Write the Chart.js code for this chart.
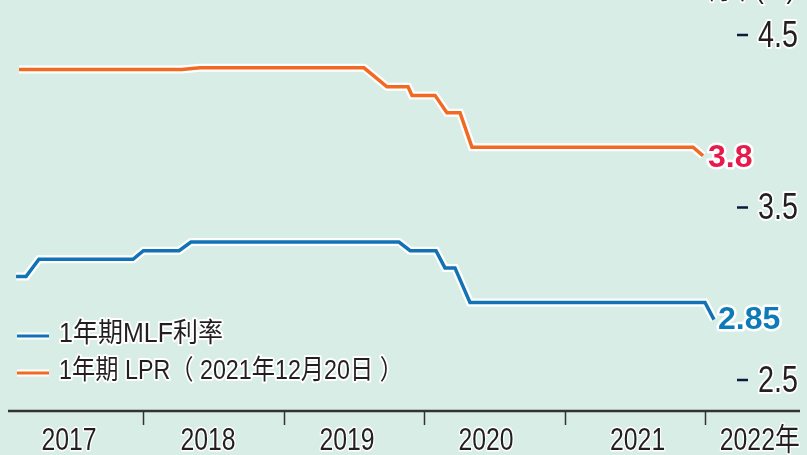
<!DOCTYPE html>
<html>
<head>
<meta charset="utf-8">
<script src="https://cdn.jsdelivr.net/npm/chart.js@4/dist/chart.umd.min.js"></script>
<style>
  html, body { margin: 0; padding: 0; background: #d9ede7; }
  #wrap { width: 807px; height: 455px; }
</style>
</head>
<body>
<div id="wrap"><canvas id="rateChart" width="807" height="455"></canvas></div>
<script>
// data (x in decimal years)
const mlfDates = [2017.093, 2017.164, 2017.256, 2017.926, 2018.0, 2018.254, 2018.339, 2019.82, 2019.90, 2020.084, 2020.148, 2020.219, 2020.326, 2022.0, 2022.064];
const mlfRates = [3.1, 3.1, 3.2, 3.2, 3.25, 3.25, 3.3, 3.3, 3.25, 3.25, 3.15, 3.15, 2.95, 2.95, 2.85];
const lprDates = [2017.114, 2018.275, 2018.403, 2019.571, 2019.735, 2019.885, 2019.913, 2020.077, 2020.162, 2020.255, 2020.34, 2021.915, 2021.986];
const lprRates = [4.30, 4.30, 4.31, 4.31, 4.20, 4.20, 4.15, 4.15, 4.05, 4.05, 3.85, 3.85, 3.80];

const yearBreaks = [2018, 2019, 2020, 2021, 2022];
const yearLabels = ['2017', '2018', '2019', '2020', '2021', '2022年'];
const yearLabelAt = [2017.47, 2018.46, 2019.45, 2020.44, 2021.52, 2022.39];
const yTicks = [2.5, 3.5, 4.5];

const seriesNames = ['1年期MLF利率', '1年期 LPR（ 2021年12月20日 ）'];
const endLabels = ['2.85', '3.8'];
const unitLabel = '利率(%)';

const BLUE = '#1173b5';
const ORANGE = '#f26a21';

function toPoints(xs, ys) {
  return xs.map((x, i) => ({ x: x, y: ys[i] }));
}

// text with a white halo, optional horizontal squeeze
function haloText(ctx, text, x, y, font, color, align, sx, halo) {
  ctx.save();
  ctx.font = font;
  ctx.textAlign = align || 'left';
  ctx.textBaseline = 'middle';
  ctx.translate(x, y);
  ctx.scale(sx || 1, 1);
  ctx.lineJoin = 'round';
  ctx.strokeStyle = '#ffffff';
  ctx.lineWidth = halo || 4;
  ctx.strokeText(text, 0, 0);
  ctx.fillStyle = color;
  ctx.fillText(text, 0, 0);
  ctx.restore();
}

const decorPlugin = {
  id: 'decor',
  beforeDraw(chart) {
    const ctx = chart.ctx;
    ctx.save();
    ctx.fillStyle = '#d9ede7';
    ctx.fillRect(0, 0, chart.width, chart.height);
    ctx.restore();
  },
  afterDraw(chart) {
    const ctx = chart.ctx;
    const xs = chart.scales.x;
    const ys = chart.scales.y;
    const area = chart.chartArea;

    // x axis line + year break ticks
    ctx.save();
    ctx.strokeStyle = '#333333';
    ctx.lineWidth = 2.5;
    ctx.beginPath();
    ctx.moveTo(area.left, area.bottom);
    ctx.lineTo(area.right, area.bottom);
    ctx.stroke();
    ctx.lineWidth = 1.5;
    yearBreaks.forEach(v => {
      const px = Math.round(xs.getPixelForValue(v)) + 0.5;
      ctx.beginPath();
      ctx.moveTo(px, area.bottom);
      ctx.lineTo(px, area.bottom + 14);
      ctx.stroke();
    });
    ctx.restore();

    yearLabels.forEach((t, i) => {
      haloText(ctx, t, xs.getPixelForValue(yearLabelAt[i]), area.bottom + 30,
        '31px "Liberation Sans", "Noto Sans CJK SC"', '#231f20', 'center', 0.8, 3);
    });

    // y ticks drawn on the right side
    yTicks.forEach(v => {
      const py = ys.getPixelForValue(v);
      ctx.save();
      ctx.strokeStyle = '#0b1a3a';
      ctx.lineWidth = 2.5;
      ctx.beginPath();
      ctx.moveTo(737, py);
      ctx.lineTo(748, py);
      ctx.stroke();
      ctx.restore();
      haloText(ctx, v.toFixed(1), 758, py + 2, '36px "Liberation Sans"', '#231f20', 'left', 0.8, 4);
    });

    // unit label, mostly cut off at the top
    haloText(ctx, unitLabel, 795, -10, '30px "Liberation Sans", "Noto Sans CJK SC"', '#231f20', 'right', 0.85, 4);

    // end value labels
    const mlfEnd = { x: xs.getPixelForValue(mlfDates[mlfDates.length - 1]), y: ys.getPixelForValue(mlfRates[mlfRates.length - 1]) };
    const lprEnd = { x: xs.getPixelForValue(lprDates[lprDates.length - 1]), y: ys.getPixelForValue(lprRates[lprRates.length - 1]) };
    haloText(ctx, endLabels[0], mlfEnd.x + 4, mlfEnd.y + 1, 'bold 32px "Liberation Sans"', '#0f7ab8', 'left', 1, 5);
    haloText(ctx, endLabels[1], lprEnd.x + 5, lprEnd.y + 2, 'bold 32px "Liberation Sans"', '#e8194b', 'left', 1, 5);

    // legend
    const legendRows = [
      { color: BLUE, text: seriesNames[0], y: 335, width: 164 },
      { color: ORANGE, text: seriesNames[1], y: 372, width: 344 }
    ];
    legendRows.forEach(r => {
      ctx.save();
      ctx.strokeStyle = '#ffffff';
      ctx.lineWidth = 7;
      ctx.beginPath();
      ctx.moveTo(17, r.y + 1);
      ctx.lineTo(49, r.y + 1);
      ctx.stroke();
      ctx.strokeStyle = r.color;
      ctx.lineWidth = 3;
      ctx.beginPath();
      ctx.moveTo(17, r.y + 1);
      ctx.lineTo(49, r.y + 1);
      ctx.stroke();
      ctx.font = '27px "Liberation Sans", "Noto Sans CJK SC"';
      const w = ctx.measureText(r.text).width;
      ctx.restore();
      haloText(ctx, r.text, 59, r.y, '27px "Liberation Sans", "Noto Sans CJK SC"', '#231f20', 'left', r.width / w, 4);
    });
  }
};

const mlfPoints = toPoints(mlfDates, mlfRates);
const lprPoints = toPoints(lprDates, lprRates);

new Chart(document.getElementById('rateChart'), {
  type: 'line',
  data: {
    datasets: [
      { label: 'MLF', data: mlfPoints, borderColor: BLUE, borderWidth: 3.5, order: 1 },
      { label: 'LPR', data: lprPoints, borderColor: ORANGE, borderWidth: 3.5, order: 1 },
      { label: 'MLF halo', data: mlfPoints, borderColor: '#ffffff', borderWidth: 8, order: 2 },
      { label: 'LPR halo', data: lprPoints, borderColor: '#ffffff', borderWidth: 8, order: 2 }
    ]
  },
  options: {
    responsive: false,
    animation: false,
    layout: { padding: { left: 8, right: 7, top: 0, bottom: 44 } },
    elements: {
      point: { radius: 0 },
      line: { tension: 0, borderJoinStyle: 'miter', fill: false }
    },
    scales: {
      x: { type: 'linear', min: 2017.0356, max: 2022.6766, display: false },
      y: { type: 'linear', min: 2.3203, max: 4.7029, display: false }
    },
    plugins: {
      legend: { display: false },
      tooltip: { enabled: false }
    }
  },
  plugins: [decorPlugin]
});
</script>
</body>
</html>
